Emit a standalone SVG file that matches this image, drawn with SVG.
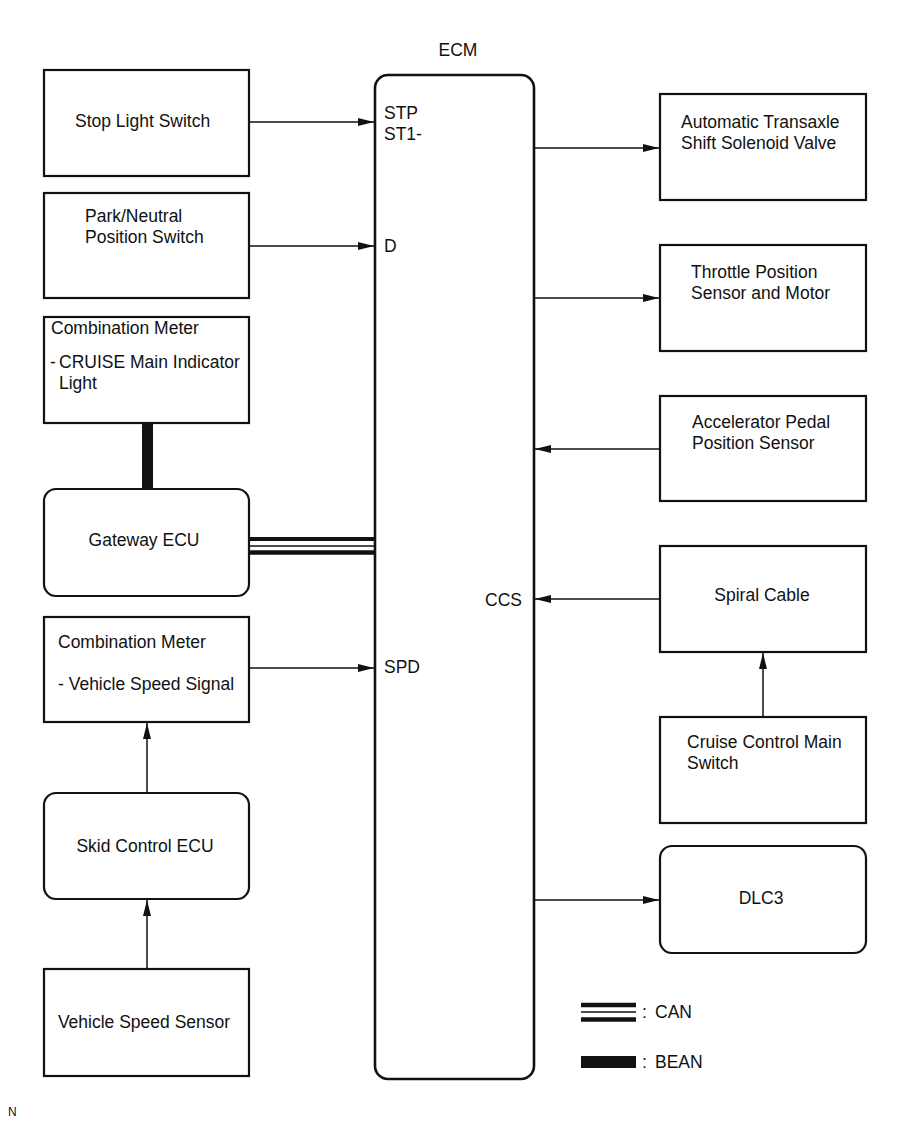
<svg xmlns="http://www.w3.org/2000/svg" width="907" height="1122" viewBox="0 0 907 1122">
<defs>
<style>
text{font-family:"Liberation Sans",Arial,sans-serif;font-size:17.5px;fill:#111}
.box{fill:#fff;stroke:#111;stroke-width:2.2}
.ecm{fill:#fff;stroke:#111;stroke-width:2.6}
.ln{stroke:#111;stroke-width:1.5;fill:none}
.c{text-anchor:middle}
</style>
<marker id="ah" viewBox="0 0 16 8" refX="16" refY="4" markerWidth="16" markerHeight="8" markerUnits="userSpaceOnUse" orient="auto">
<path d="M0,0 L16,4 L0,8 Z" fill="#111"/>
</marker>
</defs>
<rect width="907" height="1122" fill="#fff"/>

<g id="ecm">
<rect class="ecm" x="375" y="75" width="159" height="1004" rx="13"/>
<text class="c" x="458" y="56">ECM</text>
<text x="384" y="119">STP</text>
<text x="384" y="140">ST1-</text>
<text x="384" y="252">D</text>
<text x="522" y="606" text-anchor="end">CCS</text>
<text x="384" y="673">SPD</text>
</g>

<g id="stop-light-switch">
<rect class="box" x="44" y="70" width="205" height="106"/>
<text x="75" y="127">Stop Light Switch</text>
</g>
<g id="park-neutral-switch">
<rect class="box" x="44" y="193" width="205" height="105"/>
<text x="85" y="222">Park/Neutral</text>
<text x="85" y="243">Position Switch</text>
</g>
<g id="combination-meter-1">
<rect class="box" x="44" y="317" width="205" height="106"/>
<text x="51" y="334">Combination Meter</text>
<text x="50" y="368">-</text>
<text x="59" y="368">CRUISE Main Indicator</text>
<text x="59" y="389">Light</text>
</g>
<g id="gateway-ecu">
<rect class="box" x="44" y="489" width="205" height="107" rx="12"/>
<text class="c" x="144" y="546">Gateway ECU</text>
</g>
<g id="combination-meter-2">
<rect class="box" x="44" y="617" width="205" height="105"/>
<text x="58" y="648">Combination Meter</text>
<text x="58" y="690">- Vehicle Speed Signal</text>
</g>
<g id="skid-control-ecu">
<rect class="box" x="44" y="793" width="205" height="106" rx="12"/>
<text class="c" x="145" y="852">Skid Control ECU</text>
</g>
<g id="vehicle-speed-sensor">
<rect class="box" x="44" y="969" width="205" height="107"/>
<text class="c" x="144" y="1028">Vehicle Speed Sensor</text>
</g>

<g id="automatic-transaxle">
<rect class="box" x="660" y="94" width="206" height="106"/>
<text x="681" y="128">Automatic Transaxle</text>
<text x="681" y="149">Shift Solenoid Valve</text>
</g>
<g id="throttle-position">
<rect class="box" x="660" y="245" width="206" height="106"/>
<text x="691" y="278">Throttle Position</text>
<text x="691" y="299">Sensor and Motor</text>
</g>
<g id="accelerator-pedal">
<rect class="box" x="660" y="396" width="206" height="105"/>
<text x="692" y="428">Accelerator Pedal</text>
<text x="692" y="449">Position Sensor</text>
</g>
<g id="spiral-cable">
<rect class="box" x="660" y="546" width="206" height="106"/>
<text class="c" x="762" y="601">Spiral Cable</text>
</g>
<g id="cruise-control-main-switch">
<rect class="box" x="660" y="717" width="206" height="106"/>
<text x="687" y="748">Cruise Control Main</text>
<text x="687" y="769">Switch</text>
</g>
<g id="dlc3">
<rect class="box" x="660" y="846" width="206" height="107" rx="12"/>
<text class="c" x="761" y="904">DLC3</text>
</g>

<g id="connectors">
<line class="ln" x1="249" y1="122" x2="374" y2="122" marker-end="url(#ah)"/>
<line class="ln" x1="249" y1="246" x2="374" y2="246" marker-end="url(#ah)"/>
<line class="ln" x1="249" y1="668" x2="374" y2="668" marker-end="url(#ah)"/>
<line class="ln" x1="147" y1="793" x2="147" y2="723" marker-end="url(#ah)"/>
<line class="ln" x1="147" y1="969" x2="147" y2="900" marker-end="url(#ah)"/>
<line class="ln" x1="534" y1="148" x2="659" y2="148" marker-end="url(#ah)"/>
<line class="ln" x1="534" y1="298" x2="659" y2="298" marker-end="url(#ah)"/>
<line class="ln" x1="660" y1="449" x2="535" y2="449" marker-end="url(#ah)"/>
<line class="ln" x1="660" y1="599" x2="535" y2="599" marker-end="url(#ah)"/>
<line class="ln" x1="763" y1="717" x2="763" y2="653" marker-end="url(#ah)"/>
<line class="ln" x1="534" y1="900" x2="659" y2="900" marker-end="url(#ah)"/>
<rect x="142" y="423" width="11" height="66" fill="#111"/>
<line x1="249" y1="539" x2="375" y2="539" stroke="#111" stroke-width="4"/>
<line x1="249" y1="546" x2="375" y2="546" stroke="#111" stroke-width="1.5"/>
<line x1="249" y1="552.5" x2="375" y2="552.5" stroke="#111" stroke-width="4.5"/>
</g>

<g id="legend">
<line x1="581" y1="1005" x2="636" y2="1005" stroke="#111" stroke-width="4.5"/>
<line x1="581" y1="1012" x2="636" y2="1012" stroke="#111" stroke-width="1.5"/>
<line x1="581" y1="1019.5" x2="636" y2="1019.5" stroke="#111" stroke-width="4.5"/>
<text x="642" y="1018">:</text>
<text x="655" y="1018">CAN</text>
<rect x="581" y="1056" width="55" height="12" fill="#111"/>
<text x="642" y="1068">:</text>
<text x="655" y="1068">BEAN</text>
</g>
<text x="8" y="1116" style="font-size:12px">N</text>
</svg>
